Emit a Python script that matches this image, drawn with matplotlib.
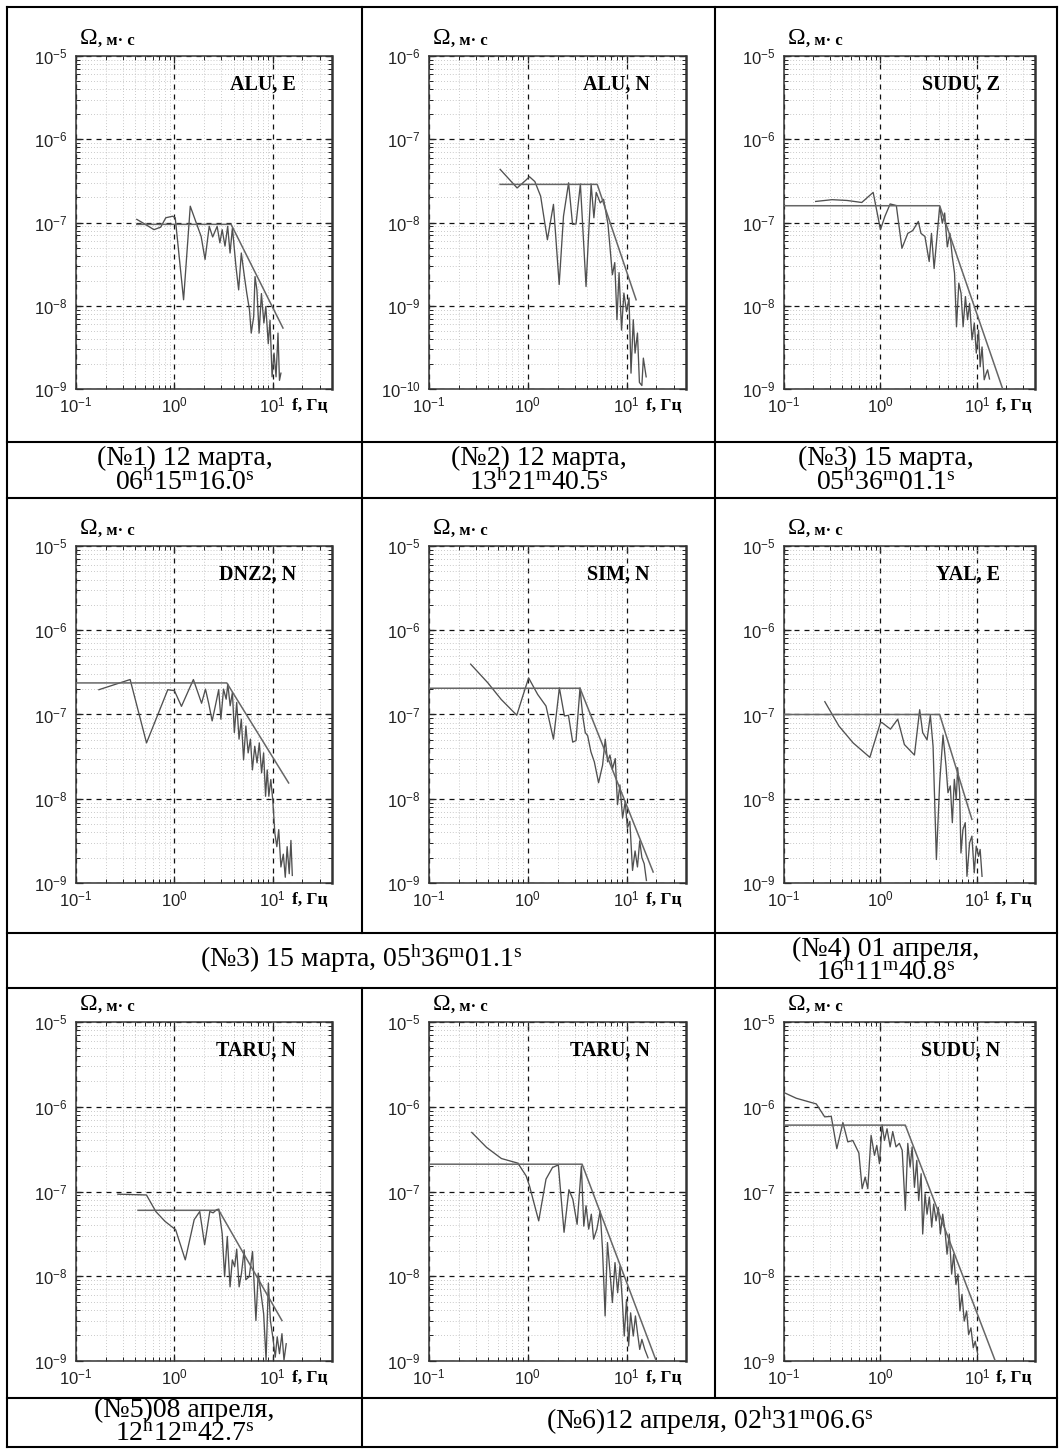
import numpy as np
import matplotlib
matplotlib.use("Agg")
import matplotlib.pyplot as plt
from matplotlib.lines import Line2D
from matplotlib.ticker import LogLocator, NullFormatter, FixedLocator

plt.rcParams['font.family'] = ['Liberation Sans', 'DejaVu Sans']

# =========================
# DATA
# =========================
stations = ["ALU, E", "ALU, N", "SUDU, Z",
            "DNZ2, N", "SIM, N", "YAL, E",
            "TARU, N", "TARU, N", "SUDU, N"]

f1 = [0.415, 0.507, 0.62, 0.726, 0.818, 0.96, 1.02, 1.24, 1.45, 1.62, 1.87, 2.05, 2.26, 2.45, 2.72,
      2.90, 3.06, 3.27, 3.48, 3.68, 3.89, 4.22, 4.5, 4.79, 5.15, 5.45, 5.8, 6.04, 6.4, 6.6,
      6.9, 7.26, 7.67, 8.12, 8.5, 9.0, 9.38, 9.84, 10.3, 10.8, 11.3, 11.7, 12.1]
a1 = [1.09e-7, 9.5e-8, 8.2e-8, 8.8e-8, 1.14e-7, 1.19e-7, 1.14e-7, 1.18e-8, 1.57e-7, 1.09e-7, 6.8e-8, 3.6e-8, 9.0e-8, 6.7e-8, 9.0e-8,
      5.7e-8, 8.2e-8, 5.2e-8, 9.0e-8, 4.3e-8, 8.6e-8, 3.0e-8, 1.55e-8, 4.3e-8, 2.24e-8, 1.4e-8, 8.9e-9, 4.7e-9, 7.4e-9, 2.24e-8,
      1.55e-8, 4.7e-9, 1.4e-8, 6.2e-9, 9.8e-9, 3.5e-9, 6.7e-9, 1.4e-9, 2.7e-9, 1.4e-9, 4.7e-9, 1.27e-9, 1.55e-9]
mf1 = [0.415, 3.77, 12.7]
ma1 = [9.5e-8, 9.5e-8, 5.4e-9]

f2 = [0.525, 0.78, 0.95, 1.04, 1.18, 1.35, 1.58, 1.82, 2.08, 2.3, 2.59, 2.84, 3.08, 3.41, 3.89,
      4.38, 4.67, 4.93, 5.42, 5.86, 6.49, 7.19, 7.6, 8.0, 8.4, 8.9, 9.4, 10.0, 10.6, 11.1,
      11.7, 12.2, 12.9, 13.5, 14.3, 14.8, 15.8]
a2 = [4.35e-8, 2.6e-8, 3.2e-8, 3.55e-8, 3.1e-8, 2.07e-8, 6.2e-9, 1.65e-8, 1.8e-9, 1.19e-8, 3.0e-8, 9.5e-9, 9.6e-9, 2.9e-8, 1.7e-9,
      2.9e-8, 1.14e-8, 2.3e-8, 1.72e-8, 1.9e-8, 9.5e-9, 2.36e-9, 3.3e-9, 6.8e-10, 2.5e-9, 5.1e-10, 1.42e-9, 8.5e-10, 1.24e-9, 1.55e-10,
      6.8e-10, 2.7e-10, 4.7e-10, 1.2e-10, 1.1e-10, 2.35e-10, 1.4e-10]
mf2 = [0.525, 5.05, 12.5]
ma2 = [2.87e-8, 2.87e-8, 1.18e-9]

f3 = [0.213, 0.315, 0.449, 0.64, 0.84, 1.0, 1.11, 1.26, 1.46, 1.67, 1.92, 2.16, 2.47, 2.63, 2.89,
      3.2, 3.38, 3.6, 3.83, 4.11, 4.38, 4.63, 4.93, 5.25, 5.55, 5.86, 6.14, 6.49, 6.85, 7.19,
      7.6, 8.0, 8.4, 8.9, 9.4, 9.85, 10.4, 10.8, 11.3, 11.9, 12.5, 12.9, 13.5]
a3 = [1.79e-7, 1.88e-7, 1.84e-7, 1.74e-7, 2.3e-7, 8.2e-8, 1.18e-7, 1.67e-7, 1.6e-7, 4.9e-8, 7.4e-8, 8.0e-8, 1.03e-7, 7.4e-8, 6.8e-8,
      3.4e-8, 7.4e-8, 2.8e-8, 6.2e-8, 1.56e-7, 9.8e-8, 1.3e-7, 5.1e-8, 7.4e-8, 3.9e-8, 2.46e-8, 5.6e-9, 1.87e-8, 1.41e-8, 5.6e-9,
      1.29e-8, 6.8e-9, 1.07e-8, 3.9e-9, 6.2e-9, 2.7e-9, 5.1e-9, 1.85e-9, 3.2e-9, 1.29e-9, 1.55e-9, 1.7e-9, 1.32e-9]
mf3 = [0.1, 4.11, 18.5]
ma3 = [1.59e-7, 1.59e-7, 1.0e-9]

f4 = [0.171, 0.355, 0.521, 0.857, 1.0, 1.18, 1.56, 1.89, 2.07, 2.24, 2.42, 2.61, 2.82, 2.97, 3.16,
      3.36, 3.49, 3.69, 3.89, 4.07, 4.3, 4.54, 4.79, 5.05, 5.33, 5.62, 5.93, 6.21, 6.56, 6.92,
      7.3, 7.7, 8.07, 8.45, 8.78, 9.12, 9.55, 10.0, 10.5, 11.0, 11.5, 12.1, 12.8, 13.4, 14.0,
      14.7, 15.3, 15.8]
a4 = [1.97e-7, 2.6e-7, 4.6e-8, 1.97e-7, 1.92e-7, 1.25e-7, 2.6e-7, 1.36e-7, 2.0e-7, 1.33e-7, 8.4e-8, 1.27e-7, 1.97e-7, 8.8e-8, 2.0e-7,
      1.52e-7, 2.3e-7, 1.27e-7, 1.83e-7, 6.1e-8, 1.39e-7, 5.1e-8, 8.8e-8, 2.9e-8, 7.3e-8, 3.5e-8, 5.1e-8, 2.2e-8, 4.2e-8, 2.67e-8,
      4.6e-8, 2.03e-8, 3.5e-8, 1.07e-8, 2.2e-8, 1.07e-8, 1.69e-8, 9.7e-9, 3.9e-9, 2.7e-9, 4.3e-9, 1.55e-9, 2.2e-9, 1.17e-9, 2.7e-9,
      1.29e-9, 3.2e-9, 1.23e-9]
mf4 = [0.1, 3.41, 14.5]
ma4 = [2.37e-7, 2.37e-7, 1.54e-8]

f5 = [0.264, 0.395, 0.538, 0.774, 0.891, 1.02, 1.26, 1.53, 1.82, 2.09, 2.35, 2.58, 2.85, 3.08, 3.38,
      3.6, 3.82, 4.04, 4.36, 4.72, 5.21, 5.72, 6.09, 6.43, 6.79, 7.22, 7.69, 8.1, 8.57, 9.12,
      9.7, 10.2, 10.8, 11.5, 12.2, 12.9, 13.6, 14.3, 15.1, 15.9]
a5 = [3.96e-7, 2.37e-7, 1.51e-7, 9.8e-8, 1.66e-7, 2.72e-7, 1.73e-7, 1.26e-7, 5.1e-8, 2.07e-7, 9.6e-8, 9.8e-8, 4.7e-8, 4.9e-8, 2.07e-7,
      9.6e-8, 6.1e-8, 5.6e-8, 3.6e-8, 2.74e-8, 1.55e-8, 2.5e-8, 5.1e-8, 2.74e-8, 3.3e-8, 2.28e-8, 3.0e-8, 8.5e-9, 1.46e-8, 5.9e-9,
      9.3e-9, 4.5e-9, 5.4e-9, 1.41e-9, 2.4e-9, 1.55e-9, 3.16e-9, 2.0e-9, 1.69e-9, 1.07e-9]
mf5 = [0.1, 3.38, 18.6]
ma5 = [2.05e-7, 2.05e-7, 1.35e-9]

f6 = [0.265, 0.371, 0.521, 0.776, 1.0, 1.04, 1.27, 1.51, 1.77, 2.25, 2.55, 2.74, 3.04, 3.29, 3.51,
      3.8, 4.11, 4.45, 4.78, 5.01, 5.3, 5.56, 5.83, 6.11, 6.31, 6.62, 6.83, 7.16, 7.57, 7.88,
      8.4, 8.87, 9.38, 9.84, 10.4, 10.8, 11.3]
a6 = [1.42e-7, 7.3e-8, 4.6e-8, 3.1e-8, 8.0e-8, 8.0e-8, 6.7e-8, 8.8e-8, 4.4e-8, 3.3e-8, 1.14e-7, 6.1e-8, 5.0e-8, 9.8e-8, 4.2e-8,
      1.9e-9, 1.55e-8, 5.7e-8, 2.45e-8, 1.18e-8, 1.42e-8, 5.2e-9, 1.7e-8, 9.8e-9, 2.34e-8, 1.18e-8, 2.27e-9, 4.3e-9, 5.2e-9, 1.2e-9,
      3.0e-9, 3.6e-9, 1.32e-9, 2.74e-9, 2.07e-9, 2.5e-9, 1.2e-9]
mf6 = [0.1, 4.11, 8.87]
ma6 = [1.0e-7, 1.0e-7, 5.7e-9]

f7 = [0.266, 0.52, 0.648, 0.802, 1.03, 1.29, 1.59, 1.81, 2.03, 2.29, 2.48, 2.68, 2.83, 3.06, 3.24,
      3.45, 3.68, 3.88, 4.1, 4.3, 4.55, 4.81, 5.12, 5.32, 5.76, 6.23, 6.74, 7.12, 7.59, 8.08,
      8.55, 9.02, 9.46, 10.0, 10.6, 11.1, 11.7, 12.4, 13.0, 13.7]
a7 = [9.3e-8, 9.1e-8, 5.8e-8, 4.45e-8, 3.54e-8, 1.56e-8, 4.66e-8, 5.8e-8, 2.35e-8, 5.8e-8, 5.6e-8, 6.1e-8, 6.2e-8, 3.2e-8, 9.9e-9,
      2.95e-8, 7.5e-9, 1.56e-8, 1.3e-8, 2.09e-8, 7.5e-9, 1.09e-8, 2.05e-8, 9.1e-9, 9.9e-9, 1.96e-8, 3.0e-9, 1.09e-8, 6.3e-9, 3.6e-9,
      1.02e-9, 8.3e-9, 3.0e-9, 1.93e-9, 1.11e-9, 1.93e-9, 1.22e-9, 2.1e-9, 1.02e-9, 1.6e-9]
mf7 = [0.427, 2.83, 12.4]
ma7 = [6.0e-8, 6.0e-8, 3.0e-9]

f8 = [0.271, 0.383, 0.541, 0.794, 0.962, 1.04, 1.29, 1.53, 1.78, 2.04, 2.33, 2.61, 2.86, 3.16, 3.49,
      3.69, 3.89, 4.14, 4.4, 4.64, 5.01, 5.41, 5.71, 6.07, 6.41, 6.81, 7.19, 7.64, 8.13, 8.58,
      9.05, 9.48, 10.0, 10.5, 11.0, 11.7, 12.3, 12.9, 13.6, 14.3, 15.3, 16.5]
a8 = [4.98e-7, 3.31e-7, 2.45e-7, 2.16e-7, 1.53e-7, 1.17e-7, 4.5e-8, 1.4e-7, 1.92e-7, 2.06e-7, 3.3e-8, 1.05e-7, 8.1e-8, 4.1e-8, 2.0e-7,
      3.9e-8, 6.8e-8, 3.6e-8, 5.4e-8, 2.74e-8, 3.6e-8, 5.9e-8, 2.08e-8, 3.4e-9, 2.5e-8, 1.1e-8, 4.9e-9, 1.45e-8, 6.4e-9, 1.32e-8,
      5.3e-9, 1.97e-9, 5.3e-9, 1.5e-9, 3.7e-9, 1.97e-9, 3.4e-9, 2.16e-9, 1.37e-9, 1.8e-9, 1.37e-9, 1.09e-9]
mf8 = [0.1, 3.55, 20.0]
ma8 = [2.1e-7, 2.1e-7, 1.0e-9]

f9 = [0.1, 0.134, 0.216, 0.264, 0.309, 0.353, 0.408, 0.459, 0.517, 0.597, 0.646, 0.694, 0.739, 0.8, 0.867,
      0.916, 0.976, 1.04, 1.1, 1.17, 1.26, 1.34, 1.45, 1.57, 1.68, 1.81, 1.92, 2.03, 2.13, 2.25,
      2.38, 2.49, 2.64, 2.74, 2.9, 3.04, 3.21, 3.4, 3.56, 3.77, 3.98, 4.18, 4.42, 4.67, 4.9,
      5.17, 5.47, 5.74, 6.06, 6.36, 6.67, 7.0, 7.39, 7.82, 8.2, 8.67, 9.16, 9.6, 10.2]
a9 = [1.47e-6, 1.26e-6, 1.08e-6, 7.6e-7, 7.7e-7, 3.2e-7, 6.5e-7, 3.85e-7, 4.0e-7, 2.85e-7, 1.08e-7, 1.48e-7, 1.08e-7, 4.6e-7, 2.67e-7,
      3.5e-7, 2.13e-7, 6.1e-7, 4.0e-7, 5.5e-7, 3.36e-7, 5.1e-7, 3.36e-7, 3.7e-7, 3.06e-7, 6.0e-8, 3.7e-7, 1.94e-7, 3.36e-7, 1.12e-7,
      2.33e-7, 7.8e-8, 1.62e-7, 3.15e-8, 9.4e-8, 5.4e-8, 8.6e-8, 3.8e-8, 7.1e-8, 4.5e-8, 6.5e-8, 3.15e-8, 5.4e-8, 3.45e-8, 1.82e-8,
      3.15e-8, 1.06e-8, 1.82e-8, 8.0e-9, 1.06e-8, 3.9e-9, 6.1e-9, 2.95e-9, 3.9e-9, 2.05e-9, 2.46e-9, 1.43e-9, 1.71e-9, 1.2e-9]
mf9 = [0.1, 1.81, 15.5]
ma9 = [6.07e-7, 6.07e-7, 1.0e-9]

spectra = [(f1, a1), (f2, a2), (f3, a3), (f4, a4), (f5, a5), (f6, a6), (f7, a7), (f8, a8), (f9, a9)]
models = [(mf1, ma1), (mf2, ma2), (mf3, ma3), (mf4, ma4), (mf5, ma5), (mf6, ma6), (mf7, ma7), (mf8, ma8), (mf9, ma9)]
ylims = [(1e-9, 1e-5), (1e-10, 1e-6), (1e-9, 1e-5),
         (1e-9, 1e-5), (1e-9, 1e-5), (1e-9, 1e-5),
         (1e-9, 1e-5), (1e-9, 1e-5), (1e-9, 1e-5)]
xlim = (0.1, 40)

# =========================
# LAYOUT (pixels)
# =========================
W, H = 1064, 1450
fig = plt.figure(figsize=(W / 100, H / 100), dpi=100)
fig.patch.set_facecolor('white')

col_lr = [(76, 332), (429, 686), (784, 1035)]
row_tb = [(56, 389), (546, 883), (1022, 1361)]

SERIF = 'Liberation Serif'


def fx(x):
    return x / W


def fy(y):
    return 1 - y / H


def decades(lo, hi):
    # major ticks only inside the view limits
    e0, e1 = int(np.ceil(np.log10(lo) - 1e-9)), int(np.floor(np.log10(hi) + 1e-9))
    return [10.0 ** e for e in range(e0, e1 + 1)]


for i in range(9):
    r, c = divmod(i, 3)
    l, rr = col_lr[c]
    t, b = row_tb[r]
    ax = fig.add_axes([fx(l), fy(b), (rr - l) / W, (b - t) / H])
    ax.set_xscale('log')
    ax.set_yscale('log')
    ax.set_xlim(*xlim)
    ax.set_ylim(*ylims[i])

    ax.xaxis.set_major_locator(FixedLocator(decades(*xlim)))
    ax.yaxis.set_major_locator(FixedLocator(decades(*ylims[i])))
    for a in (ax.xaxis, ax.yaxis):
        a.set_minor_locator(LogLocator(base=10, subs=np.arange(2, 10), numticks=30))
        a.set_minor_formatter(NullFormatter())

    ax.tick_params(which='both', direction='in', top=True, right=True,
                   labelsize=12, colors='#222222')
    ax.tick_params(axis='x', pad=5)
    ax.tick_params(axis='y', pad=6)
    ax.tick_params(which='major', length=5, width=0.9)
    ax.tick_params(which='minor', length=3, width=0.7)
    ax.grid(which='minor', ls=(0, (1, 2.5)), color='#b8b8b8', lw=0.6)
    ax.grid(which='major', ls=(0, (4, 4)), color='#111111', lw=0.9)
    for s in ax.spines.values():
        s.set_color('#333333')
        s.set_linewidth(1.1)
    ax.spines['right'].set_linewidth(1.8)

    f, a = spectra[i]
    ax.plot(f, a, color='#505050', lw=0.95, zorder=3)
    mf, ma = models[i]
    ax.plot(mf, ma, color='#666666', lw=1.1, zorder=4)

    ax.text(0.86, 0.915, stations[i], transform=ax.transAxes, ha='right', va='center',
            family=SERIF, fontweight='bold', fontsize=14.5)
    ax.annotate('Ω', xy=(0, 1), xycoords='axes fraction', xytext=(3, 5),
                textcoords='offset points', ha='left', va='bottom',
                family=SERIF, fontsize=17)
    ax.annotate(', м· с', xy=(0, 1), xycoords='axes fraction', xytext=(16, 5),
                textcoords='offset points', ha='left', va='bottom',
                family=SERIF, fontweight='bold', fontsize=12)
    ax.annotate('f, Гц', xy=(0.845, 0), xycoords='axes fraction', xytext=(0, -15),
                textcoords='offset points', ha='left', va='baseline',
                family=SERIF, fontweight='bold', fontsize=12.5)

# =========================
# TABLE LINES
# =========================
X0, X1, X2, X3 = 7, 362, 715, 1057
Y0, YC1, Y1, YC2, Y2, YC3, Y3 = 7, 442, 498, 933, 988, 1398, 1447


def seg(x0, y0, x1, y1):
    fig.add_artist(Line2D([fx(x0), fx(x1)], [fy(y0), fy(y1)], color='black', lw=1.5,
                          transform=fig.transFigure))


for y in (Y0, YC1, Y1, YC2, Y2, YC3, Y3):
    seg(X0, y, X3, y)
seg(X0, Y0, X0, Y3)
seg(X3, Y0, X3, Y3)
seg(X1, Y0, X1, YC2)
seg(X1, Y2, X1, Y3)
seg(X2, Y0, X2, YC3)

# =========================
# CAPTIONS
# =========================
CAP = 20


def cap(x, y, s):
    fig.text(fx(x), fy(y), s, ha='center', va='baseline', family=SERIF, fontsize=CAP)


cap((X0 + X1) / 2, 465, '(№1) 12 марта,')
cap((X0 + X1) / 2, 490, r'$\mathregular{06^{h}15^{m}16.0^{s}}$')
cap((X1 + X2) / 2, 465, '(№2) 12 марта,')
cap((X1 + X2) / 2, 490, r'$\mathregular{13^{h}21^{m}40.5^{s}}$')
cap((X2 + X3) / 2, 465, '(№3) 15 марта,')
cap((X2 + X3) / 2, 490, r'$\mathregular{05^{h}36^{m}01.1^{s}}$')

cap((X0 + X2) / 2, 967, r'(№3) 15 марта, $\mathregular{05^{h}36^{m}01.1^{s}}$')
cap((X2 + X3) / 2, 956, '(№4) 01 апреля,')
cap((X2 + X3) / 2, 980, r'$\mathregular{16^{h}11^{m}40.8^{s}}$')

cap((X0 + X1) / 2, 1417, '(№5)08 апреля,')
cap((X0 + X1) / 2, 1441, r'$\mathregular{12^{h}12^{m}42.7^{s}}$')
cap((X1 + X3) / 2, 1429, r'(№6)12 апреля, $\mathregular{02^{h}31^{m}06.6^{s}}$')

fig.savefig('out.png', dpi=100, facecolor='white')
